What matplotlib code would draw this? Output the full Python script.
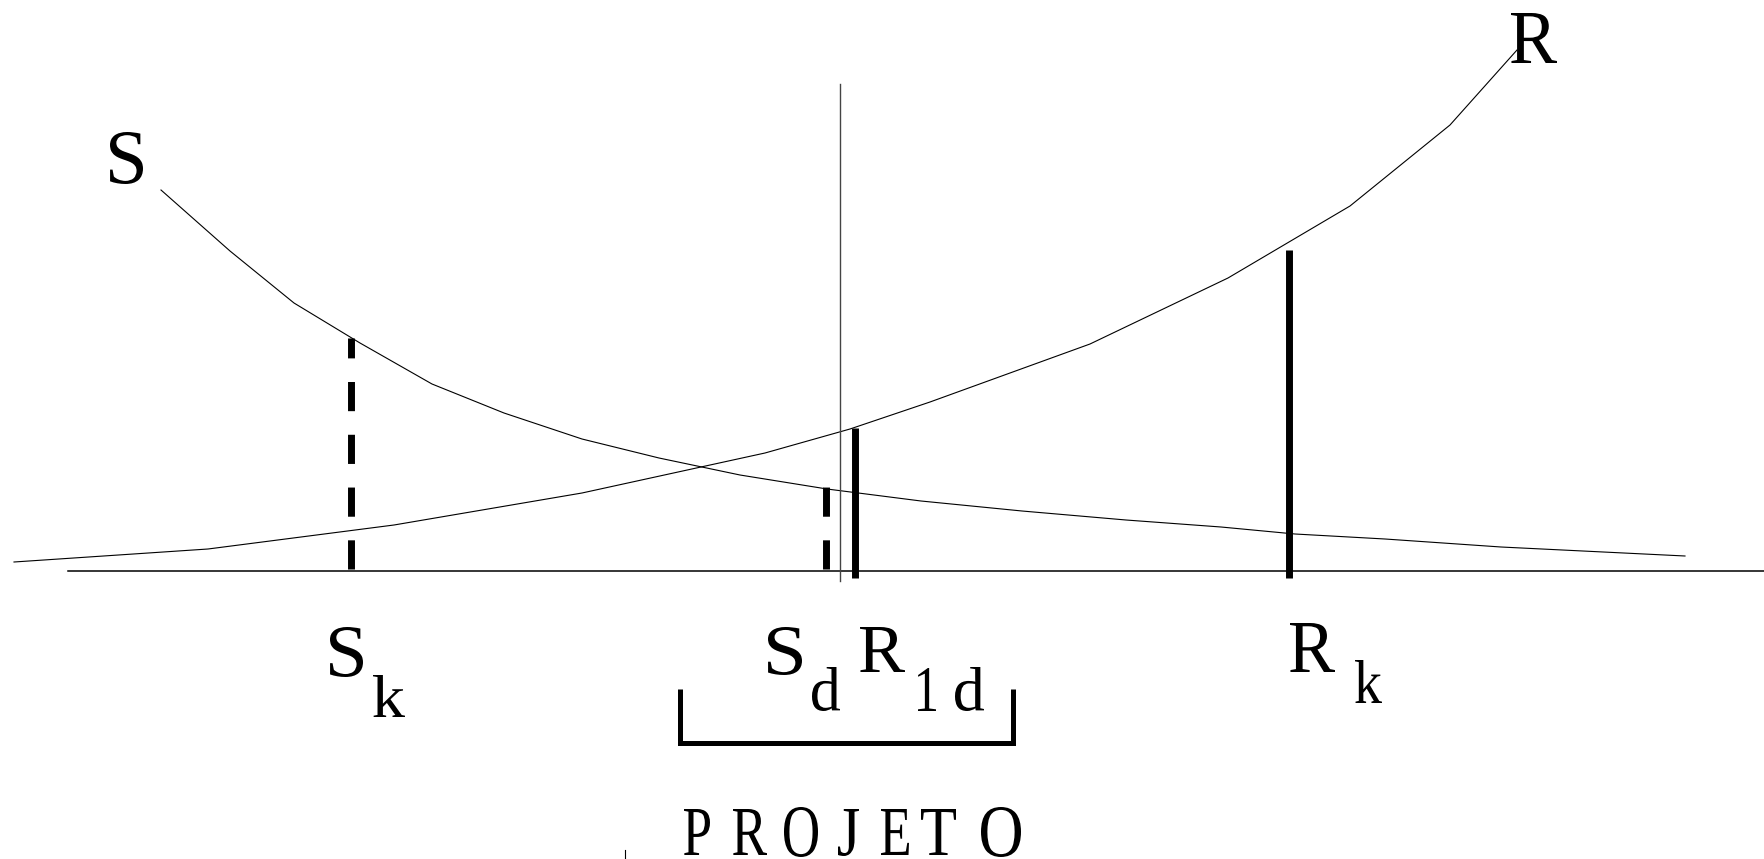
import matplotlib.pyplot as plt
from matplotlib.font_manager import FontProperties
from matplotlib.textpath import TextPath
from matplotlib.patches import PathPatch
from matplotlib.transforms import Affine2D

plt.rcParams['lines.scale_dashes'] = False

# curve S (load effect) and curve R (resistance), in drawing units
s_x = [161, 230, 294, 360, 432, 504, 582, 659, 740, 827, 921, 1022, 1126, 1221, 1295, 1385, 1501, 1685]
s_y = [190, 251, 303, 343, 384, 413, 439, 458, 475, 489, 501, 511, 520, 527, 534, 539, 547, 556]
r_x = [14, 208, 394, 582, 765, 850, 930, 1090, 1228, 1350, 1450, 1517]
r_y = [562, 549, 525, 493, 453, 429, 402, 344, 278, 206, 125, 50]

axis_y = 571
mid_x = 840

# characteristic / design values: x position, top of the stroke, dashed or not
marks_x = [351, 826, 855, 1289]
marks_top = [338, 487, 428, 250]
marks_dashed = [True, True, False, False]

# glyphs of the labels, one per character
glyphs = ['S', 'R',
          'S', 'k',
          'S', 'd', 'R', '1', 'd',
          'R', 'k',
          'P', 'R', 'O', 'J', 'E', 'T', 'O']

fp = FontProperties(family='Liberation Serif')


def draw_glyph(ax, ch, box):
    # fit the ink of one character into box = (x0, x1, y0, y1); y grows downward
    x0, x1, y0, y1 = box
    tp = TextPath((0, 0), ch, size=1, prop=fp)
    bb = tp.get_extents()
    sx = (x1 - x0) / bb.width
    sy = (y1 - y0) / bb.height
    tr = (Affine2D().translate(-bb.x0, -bb.y1)
          .scale(sx, -sy).translate(x0, y0))
    ax.add_patch(PathPatch(tr.transform_path(tp), facecolor='black',
                           edgecolor='none'))


fig = plt.figure(figsize=(17.65, 8.59), dpi=100)
ax = fig.add_axes([0, 0, 1, 1])
ax.set_xlim(0, 1765)
ax.set_ylim(859, 0)
ax.axis('off')

ax.plot(s_x, s_y, color='black', lw=0.8)
ax.plot(r_x, r_y, color='black', lw=0.8)

# horizontal axis and the thin vertical reference
ax.plot([68, 1765], [axis_y, axis_y], color='black', lw=1.1)
ax.plot([mid_x, mid_x], [84, 581], color='#444444', lw=1.0)

for x, top, dashed in zip(marks_x, marks_top, marks_dashed):
    if dashed:
        ax.plot([x, x], [axis_y - 2, top], color='black', lw=5,
                dashes=(21, 17), dash_capstyle='butt')
    else:
        ax.plot([x, x], [axis_y + 7, top], color='black', lw=5,
                solid_capstyle='butt')

# bracket over the design range
ax.plot([680, 680, 1013, 1013], [689, 743, 743, 689], color='black', lw=3.6,
        solid_joinstyle='miter', solid_capstyle='butt')

# small stray tick near the bottom
ax.plot([625, 625], [850, 858], color='black', lw=0.8)

boxes = [(110, 143, 132, 184), (1511, 1557, 13, 63),
         (330, 363, 627, 677), (373, 405, 675, 717),
         (768, 802, 627, 675), (812, 840, 667, 711),
         (860, 905, 627, 672), (918, 936, 668, 711), (955, 984, 667, 711),
         (1290, 1335, 623, 672), (1355, 1382, 660, 703),
         (684, 710, 809, 855), (733, 767, 809, 855), (784, 818, 807, 857),
         (838, 859, 809, 856), (881, 909, 809, 855), (921, 956, 809, 855),
         (981, 1021, 807, 857)]

for ch, box in zip(glyphs, boxes):
    draw_glyph(ax, ch, box)

fig.savefig('out.png', dpi=100, facecolor='white')
